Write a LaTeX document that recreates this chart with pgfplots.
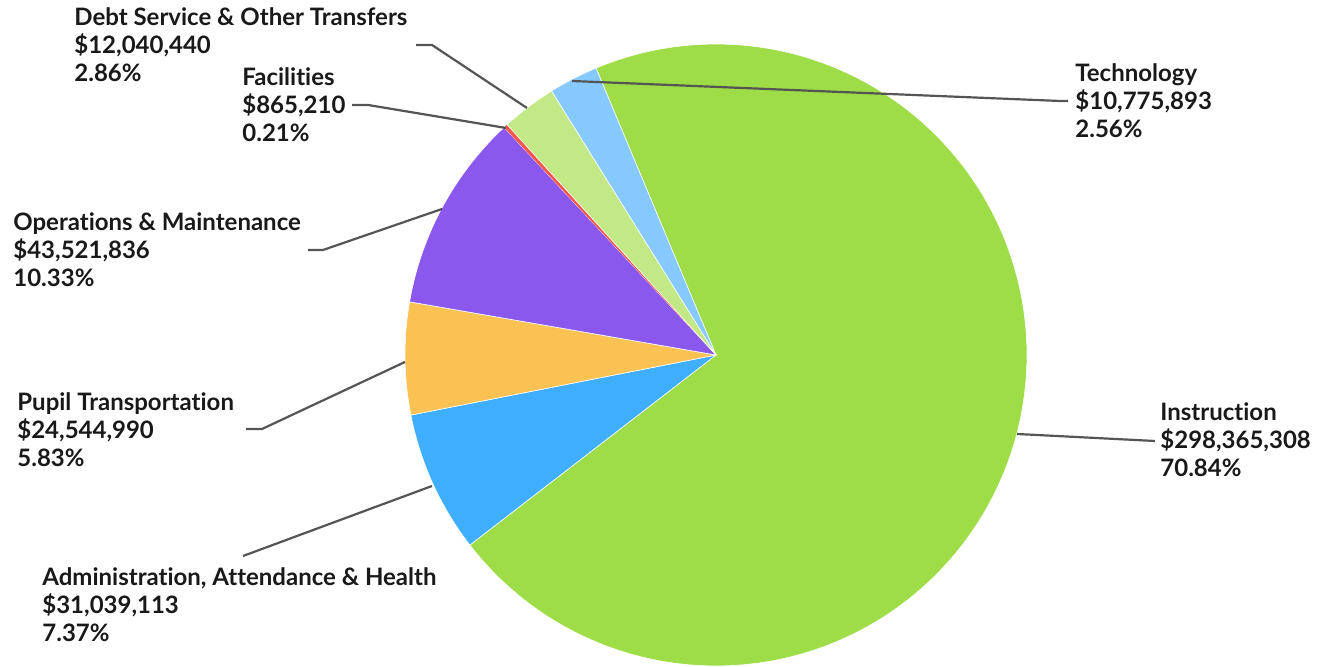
\documentclass[border=0pt]{standalone}
\usepackage{fontspec}
\setmainfont{Lato}[Ligatures={NoCommon}]
\usepackage{pgfplots}
\pgfplotsset{compat=1.18}

\definecolor{cInstr}{HTML}{9EDC48}
\definecolor{cAdmin}{HTML}{40AEFF}
\definecolor{cPupil}{HTML}{F9C253}
\definecolor{cOper}{HTML}{8B58EE}
\definecolor{cFacil}{HTML}{F2594B}
\definecolor{cDebt}{HTML}{C3E886}
\definecolor{cTech}{HTML}{85C9FF}
\definecolor{leader}{HTML}{555555}

% shares in percent, clockwise from the top-left edge of Instruction
\pgfmathsetmacro\aO{112.7}
\pgfmathsetmacro\aI{\aO-3.6*70.84}
\pgfmathsetmacro\aA{\aI-3.6*7.37}
\pgfmathsetmacro\aP{\aA-3.6*5.83}
\pgfmathsetmacro\aM{\aP-3.6*10.33}
\pgfmathsetmacro\aF{\aM-3.6*0.21}
\pgfmathsetmacro\aD{\aF-3.6*2.86}
\pgfmathsetmacro\aT{\aD-3.6*2.56}

\tikzset{lbl/.style={anchor=west, align=left, inner sep=0pt,
  font=\fontsize{12}{14}\selectfont\bfseries, text=black!90}}

\begin{document}
\begin{tikzpicture}
\begin{axis}[x=0.5pt, y=0.5pt, xmin=0, xmax=1323, ymin=0, ymax=666,
  hide axis, clip=false]
\path (axis cs:0,0) rectangle (axis cs:1323,666);

% slices (centre 716,311, radius 311)
\addplot[fill=cInstr, draw=white, line width=0.3pt, domain=\aI:\aO, samples=120]
  ({716+311*cos(x)},{311+311*sin(x)}) -- (axis cs:716,311) -- cycle;
\addplot[fill=cAdmin, draw=white, line width=0.3pt, domain=\aA:\aI, samples=30]
  ({716+311*cos(x)},{311+311*sin(x)}) -- (axis cs:716,311) -- cycle;
\addplot[fill=cPupil, draw=white, line width=0.3pt, domain=\aP:\aA, samples=30]
  ({716+311*cos(x)},{311+311*sin(x)}) -- (axis cs:716,311) -- cycle;
\addplot[fill=cOper, draw=white, line width=0.3pt, domain=\aM:\aP, samples=30]
  ({716+311*cos(x)},{311+311*sin(x)}) -- (axis cs:716,311) -- cycle;
\addplot[fill=cFacil, draw=none, domain=\aF:\aM, samples=5]
  ({716+311*cos(x)},{311+311*sin(x)}) -- (axis cs:716,311) -- cycle;
\addplot[fill=cDebt, draw=white, line width=0.3pt, domain=\aD:\aF, samples=20]
  ({716+311*cos(x)},{311+311*sin(x)}) -- (axis cs:716,311) -- cycle;
\addplot[fill=cTech, draw=white, line width=0.3pt, domain=\aT:\aD, samples=20]
  ({716+311*cos(x)},{311+311*sin(x)}) -- (axis cs:716,311) -- cycle;

% leader lines
\addplot[leader, line width=1.1pt, no marks] coordinates {(572,585) (1060,565) (1068,565)};
\addplot[leader, line width=1.1pt, no marks] coordinates {(1017,232) (1155,225)};
\addplot[leader, line width=1.1pt, no marks] coordinates {(416,621) (432,621) (527,558)};
\addplot[leader, line width=1.1pt, no marks] coordinates {(352,561) (368,561) (506,538)};
\addplot[leader, line width=1.1pt, no marks] coordinates {(308,416) (323,416) (442,457)};
\addplot[leader, line width=1.1pt, no marks] coordinates {(246,237) (262,237) (405,304)};
\addplot[leader, line width=1.1pt, no marks] coordinates {(243,110) (432,180)};

% labels
\node[lbl] at (axis cs:1075,565) {Technology\\\$10,775,893\\2.56\%};
\node[lbl] at (axis cs:1160,226) {Instruction\\\$298,365,308\\70.84\%};
\node[lbl] at (axis cs:74,621) {Debt Service \& Other Transfers\\\$12,040,440\\2.86\%};
\node[lbl] at (axis cs:242,561) {Facilities\\\$865,210\\0.21\%};
\node[lbl] at (axis cs:13,416) {Operations \& Maintenance\\\$43,521,836\\10.33\%};
\node[lbl] at (axis cs:17,236) {Pupil Transportation\\\$24,544,990\\5.83\%};
\node[lbl] at (axis cs:42,61) {Administration, Attendance \& Health\\\$31,039,113\\7.37\%};
\end{axis}
\end{tikzpicture}
\end{document}
